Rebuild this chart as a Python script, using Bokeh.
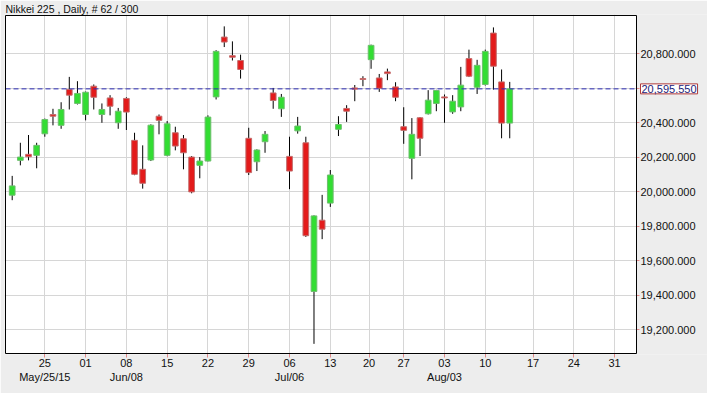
import numpy as np
import pandas as pd
from bokeh.plotting import figure
from bokeh.models import (ColumnDataSource, FixedTicker, NumeralTickFormatter, LinearAxis,
                          Range1d, Label, BoxAnnotation, CustomJSTickFormatter)
from bokeh.embed import file_html
from bokeh.resources import INLINE

title_text = "Nikkei 225 , Daily, # 62 / 300"

dates = [
    "2015-05-19", "2015-05-20", "2015-05-21", "2015-05-22", "2015-05-25", "2015-05-26",
    "2015-05-27", "2015-05-28", "2015-05-29", "2015-06-01", "2015-06-02", "2015-06-03",
    "2015-06-04", "2015-06-05", "2015-06-08", "2015-06-09", "2015-06-10", "2015-06-11",
    "2015-06-12", "2015-06-15", "2015-06-16", "2015-06-17", "2015-06-18", "2015-06-19",
    "2015-06-22", "2015-06-23", "2015-06-24", "2015-06-25", "2015-06-26", "2015-06-29",
    "2015-06-30", "2015-07-01", "2015-07-02", "2015-07-03", "2015-07-06", "2015-07-07",
    "2015-07-08", "2015-07-09", "2015-07-10", "2015-07-13", "2015-07-14", "2015-07-15",
    "2015-07-16", "2015-07-17", "2015-07-21", "2015-07-22", "2015-07-23", "2015-07-24",
    "2015-07-27", "2015-07-28", "2015-07-29", "2015-07-30", "2015-07-31", "2015-08-03",
    "2015-08-04", "2015-08-05", "2015-08-06", "2015-08-07", "2015-08-10", "2015-08-11",
    "2015-08-12", "2015-08-13",
]

opens = [19979, 20181, 20216, 20210, 20335, 20447, 20384, 20592, 20511, 20447, 20611, 20447,
         20543, 20399, 20540, 20297, 20129, 20183, 20437, 20210, 20341, 20306, 20200, 20152,
         20177, 20549, 20896, 20788, 20760, 20309, 20173, 20289, 20572, 20480, 20204, 20352,
         20283, 19421, 19834, 19933, 20361, 20482, 20601, 20655, 20765, 20659, 20694, 20607,
         20376, 20193, 20428, 20451, 20511, 20549, 20462, 20491, 20771, 20605, 20621, 20919,
         20636, 20397]
highs = [20091, 20283, 20328, 20283, 20423, 20480, 20518, 20665, 20640, 20580, 20621, 20511,
         20559, 20485, 20547, 20341, 20268, 20390, 20447, 20409, 20376, 20328, 20206, 20200,
         20442, 20820, 20958, 20871, 20794, 20370, 20245, 20351, 20601, 20566, 20318, 20433,
         20318, 19862, 19981, 20125, 20437, 20501, 20618, 20669, 20852, 20682, 20713, 20634,
         20489, 20426, 20432, 20588, 20590, 20563, 20559, 20723, 20823, 20764, 20823, 20952,
         20708, 20636]
lows = [19950, 20152, 20181, 20135, 20318, 20384, 20364, 20476, 20505, 20413, 20476, 20399,
        20442, 20364, 20357, 20095, 20017, 20177, 20332, 20205, 20239, 20129, 19990, 20077,
        20175, 20534, 20838, 20760, 20655, 20096, 20119, 20225, 20480, 20433, 20014, 20336,
        19737, 19117, 19724, 19911, 20322, 20404, 20524, 20611, 20712, 20578, 20646, 20524,
        20277, 20071, 20206, 20447, 20466, 20399, 20451, 20466, 20664, 20566, 20615, 20591,
        20309, 20309]
closes = [20033, 20200, 20202, 20268, 20418, 20437, 20476, 20559, 20569, 20576, 20547, 20476,
          20495, 20466, 20461, 20100, 20048, 20385, 20413, 20393, 20264, 20225, 19998, 20177,
          20432, 20813, 20867, 20779, 20708, 20110, 20241, 20332, 20528, 20547, 20119, 20380,
          19744, 19859, 19782, 20096, 20389, 20466, 20594, 20650, 20848, 20599, 20684, 20547,
          20355, 20332, 20309, 20530, 20586, 20543, 20524, 20617, 20669, 20732, 20813, 20727,
          20397, 20595.55]

last_price = 20595.55
last_price_text = "20,595.550"

price_ticks = [19200, 19400, 19600, 19800, 20000, 20200, 20400, 20600, 20800]

day_tick_dates = ["2015-05-25", "2015-06-01", "2015-06-08", "2015-06-15", "2015-06-22",
                  "2015-06-29", "2015-07-06", "2015-07-13", "2015-07-20", "2015-07-27",
                  "2015-08-03", "2015-08-10", "2015-08-17", "2015-08-24", "2015-08-31"]
day_tick_labels = ["25", "01", "08", "15", "22", "29", "06", "13", "20", "27", "03", "10",
                   "17", "24", "31"]
month_tick_dates = ["2015-05-25", "2015-06-08", "2015-07-06", "2015-08-03"]
month_tick_labels = ["May/25/15", "Jun/08", "Jul/06", "Aug/03"]

# ---- trading-day axis positions ----
d_idx = pd.to_datetime(dates)
d_num = d_idx.values.astype("int64")
n = len(dates)


def pos_of(ds):
    t = pd.Timestamp(ds)
    if t <= d_idx[-1]:
        return float(np.interp(t.value, d_num, np.arange(n)))
    return (n - 1) + (t - d_idx[-1]).days * 5.0 / 7.0


day_pos = [pos_of(d) for d in day_tick_dates]
month_pos = [pos_of(d) for d in month_tick_dates]

# visible chart window (data units) and its pixel size
X0, X1 = -0.82, 76.54          # chart box left / right
Y0, Y1 = 19061.0, 21021.0      # chart box bottom / top
BOX_W, BOX_H = 631, 339        # chart box size in px
ux = (X1 - X0) / BOX_W
uy = (Y1 - Y0) / BOX_H
XS, XE = X0 - 1 * ux, X1 + 71 * ux   # frame extends 1px left, to the window's right edge
YS, YE = Y0 - 1 * uy, Y1 + 1 * uy

INC_FILL, INC_LINE = "#33DD33", "#6DBE6D"
DEC_FILL, DEC_LINE = "#E31B1B", "#C26C6C"
BG = "#EDEDED"

o = np.array(opens, float)
c = np.array(closes, float)
up = c > o
src = ColumnDataSource(dict(
    x=list(range(n)), high=highs, low=lows,
    top=np.maximum(o, c), bottom=np.minimum(o, c),
    fill=[INC_FILL if u else DEC_FILL for u in up],
    line=[INC_LINE if u else DEC_LINE for u in up],
))

p = figure(width=707, height=393, output_backend="svg", toolbar_location=None,
           x_range=Range1d(XS, XE), y_range=Range1d(YS, YE),
           y_axis_location="right",
           min_border_left=4, min_border_right=0, min_border_top=13, min_border_bottom=39)

p.background_fill_color = BG
p.border_fill_color = BG
p.outline_line_color = None

p.title.text = title_text
p.title.text_font = "Liberation Sans"
p.title.text_font_size = "10.5px"
p.title.text_font_style = "normal"
p.title.text_color = "#111111"
p.title.standoff = 0
p.title.offset = 1
p.title.align = "left"

FONT = "Liberation Sans"
TICK_COL = "#E08A8A"

# white chart area under the grid
p.add_layout(BoxAnnotation(left=X0, right=X1, bottom=Y0, top=Y1, fill_color="white",
                           fill_alpha=1.0, line_color=None, level="image"))

ya = p.yaxis[0]
ya.fixed_location = X1
ya.ticker = FixedTicker(ticks=price_ticks)
ya.formatter = NumeralTickFormatter(format="0,0.000")
ya.major_label_overrides = {20600: ""}
ya.axis_line_color = None
ya.major_tick_line_color = TICK_COL
ya.major_tick_out = 3
ya.major_tick_in = 0
ya.minor_tick_line_color = None
ya.major_label_standoff = 1
ya.major_label_text_font = FONT
ya.major_label_text_font_size = "11px"
ya.major_label_text_color = "#111111"

label_js = """
let best = 0; let bd = 1e9;
for (let i = 0; i < pos.length; i++) {
  const d = Math.abs(pos[i] - tick);
  if (d < bd) { bd = d; best = i; }
}
return labs[best];
"""

xa = p.xaxis[0]
xa.ticker = FixedTicker(ticks=day_pos)
xa.formatter = CustomJSTickFormatter(args=dict(pos=day_pos, labs=day_tick_labels), code=label_js)
xa.axis_line_color = None
xa.major_tick_line_color = TICK_COL
xa.major_tick_out = 3
xa.major_tick_in = 1
xa.minor_tick_line_color = None
xa.major_label_standoff = 1
xa.major_label_text_font = FONT
xa.major_label_text_font_size = "11px"
xa.major_label_text_color = "#111111"

xa2 = LinearAxis(ticker=FixedTicker(ticks=month_pos),
                 formatter=CustomJSTickFormatter(args=dict(pos=month_pos, labs=month_tick_labels),
                                                 code=label_js))
xa2.axis_line_color = None
xa2.major_tick_line_color = None
xa2.major_tick_out = 0
xa2.major_tick_in = 0
xa2.minor_tick_line_color = None
xa2.major_label_standoff = 1
xa2.major_label_text_font = FONT
xa2.major_label_text_font_size = "11px"
xa2.major_label_text_color = "#111111"
p.add_layout(xa2, "below")

p.xgrid.ticker = FixedTicker(ticks=day_pos)
p.ygrid.ticker = FixedTicker(ticks=price_ticks)
p.xgrid.grid_line_color = "#D6D6D6"
p.ygrid.grid_line_color = "#D6D6D6"

# grey area right of the chart box (covers the grid there)
p.quad(left=X1, right=XE, bottom=YS, top=YE, fill_color=BG, line_color=None)

p.segment(x0="x", y0="low", x1="x", y1="high", source=src, line_color="black", line_width=1)
p.vbar(x="x", width=0.7, top="top", bottom="bottom", source=src,
       fill_color="fill", line_color="line", line_width=1)

# last price line
p.segment(x0=X0, x1=X1, y0=last_price, y1=last_price, line_color="#2B2BB3",
          line_dash="5 3", line_width=1)

# chart box border
p.add_layout(BoxAnnotation(left=X0, right=X1, bottom=Y0, top=Y1, fill_color=None,
                           line_color="black", line_alpha=1.0, line_width=1))

p.add_layout(Label(x=X1, y=last_price, x_offset=4, text=last_price_text,
                   text_font=FONT, text_font_size="11px", text_color="#1B1B7A",
                   text_align="left", text_baseline="middle",
                   background_fill_color="white", border_line_color="#B03A3A",
                   border_line_width=1, padding=1))

open("out.html", "w").write(file_html(p, INLINE))
